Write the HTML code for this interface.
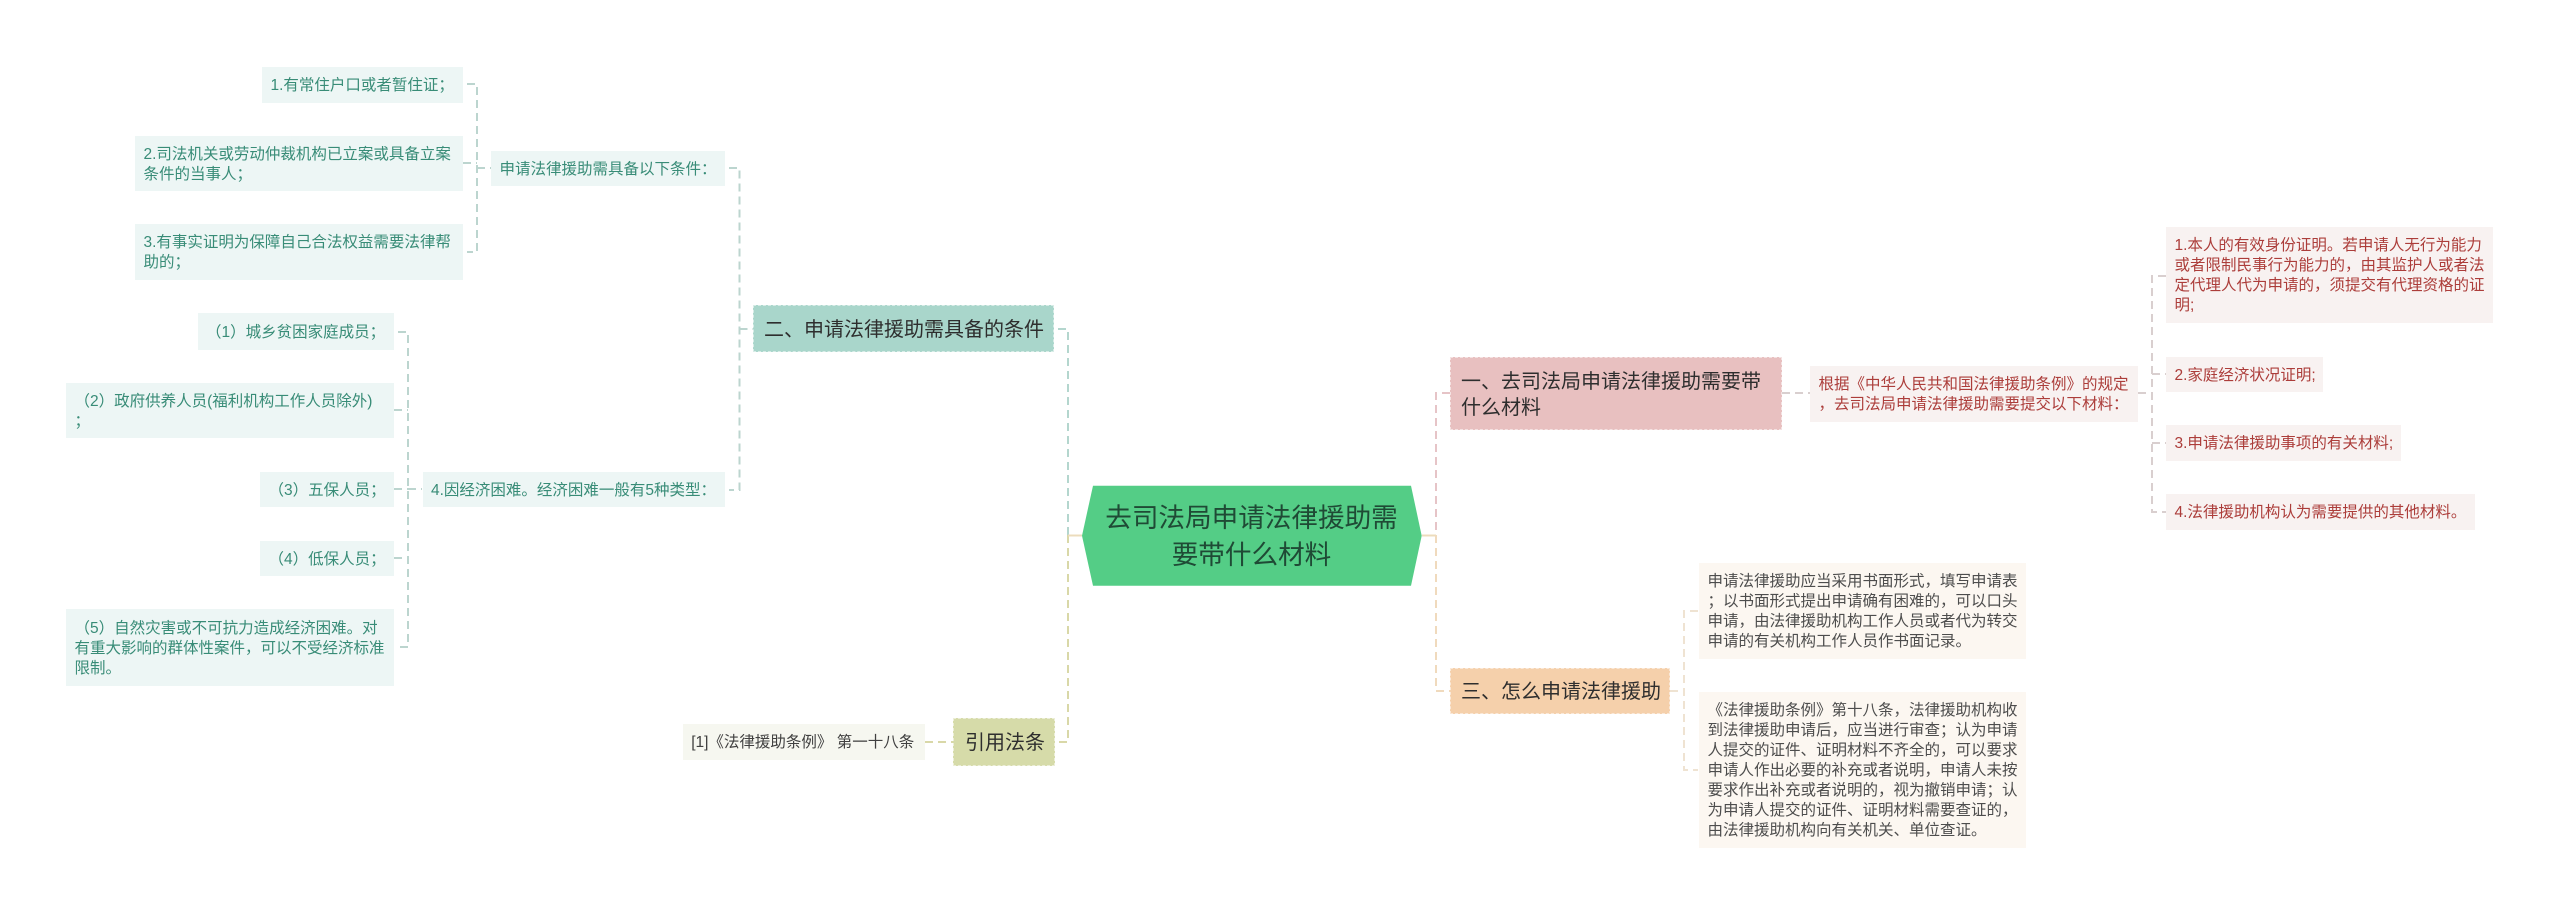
<!DOCTYPE html>
<html lang="zh">
<head>
<meta charset="utf-8">
<title>去司法局申请法律援助需要带什么材料</title>
<style>
html,body{margin:0;padding:0;background:#fff}
#c{position:relative;width:2560px;height:915px;overflow:hidden;background:#fff;font-family:"Liberation Sans","Noto Sans CJK SC",sans-serif}
svg{position:absolute;left:0;top:0}
.n{position:absolute;box-sizing:border-box;display:flex;align-items:center;white-space:nowrap;font-size:15.5px;line-height:20px;padding-left:8.5px;padding-top:2px}
.t{background:#edf6f5;color:#388c77}
.r{background:#f8f2f1;color:#ac3d3a}
.q{background:#fcf7f1;color:#4d4d4d}
.y{background:#f6f7f0;color:#404040}
.m{font-size:20px;line-height:26px;color:#2e2e2e;padding-left:10px;border:1px dashed rgba(255,255,255,.55)}
</style>
</head>
<body>
<div id="c">
<svg width="2560" height="915" fill="none" stroke-width="2" stroke-dasharray="8 5">
<g stroke="#bcd5cf">
<path d="M467 84H477V252H467M463 163H477M477 168H491"/>
<path d="M398 332H408V647H398M394 410H408M394 489H408M394 558H408M408 489H422"/>
<path d="M729 168H739.500V490H729"/>
<path d="M739.500 329H753"/>
</g>
<g stroke="#b4d6ce">
<path d="M1058 329H1068V535"/>
</g>
<g stroke="#d9d8a8">
<path d="M1068 535V742H1058"/>
<path d="M925 742H953"/>
</g>
<path d="M1068 535.500H1082" stroke="#ecdcbc" stroke-dasharray="none"/>
<path d="M1422 535.500H1436" stroke="#ecdcbc" stroke-dasharray="none"/>
<g stroke="#e6c4c7">
<path d="M1450 393H1436V535"/>
</g>
<g stroke="#f0dabd">
<path d="M1436 535V691H1450"/>
</g>
<g stroke="#d9cfcf">
<path d="M1782 393H1810M2138 393H2152"/>
<path d="M2166 276H2152V512H2166M2152 374H2166M2152 443H2166"/>
</g>
<g stroke="#efe3d2">
<path d="M1670 691H1684"/>
<path d="M1698 611H1684V770H1698"/>
</g>
<polygon points="1082,535.700 1093,485.700 1411,485.700 1421.700,535.700 1411,585.700 1093,585.700" fill="#54cd86" stroke="none"/>
</svg>

<div style="position:absolute;left:1082px;top:486.500px;width:339px;height:100px;display:flex;align-items:center;justify-content:center;text-align:center;font-size:26.6px;line-height:36.6px;color:#1f4a35;white-space:nowrap">去司法局申请法律援助需<br>要带什么材料</div>

<div class="n t" style="left:262px;top:67px;width:201px;height:36px">1.有常住户口或者暂住证；</div>
<div class="n t" style="left:135px;top:136px;width:328px;height:55px">2.司法机关或劳动仲裁机构已立案或具备立案<br>条件的当事人；</div>
<div class="n t" style="left:135px;top:224px;width:328px;height:56px">3.有事实证明为保障自己合法权益需要法律帮<br>助的；</div>
<div class="n t" style="left:491px;top:151px;width:234px;height:35px">申请法律援助需具备以下条件：</div>

<div class="n t" style="left:197.500px;top:313px;width:196.500px;height:37px">（1）城乡贫困家庭成员；</div>
<div class="n t" style="left:66px;top:383px;width:328px;height:55px">（2）政府供养人员(福利机构工作人员除外)<br>；</div>
<div class="n t" style="left:260px;top:472px;width:134px;height:35px">（3）五保人员；</div>
<div class="n t" style="left:260px;top:541px;width:134px;height:35px">（4）低保人员；</div>
<div class="n t" style="left:66px;top:609px;width:328px;height:77px">（5）自然灾害或不可抗力造成经济困难。对<br>有重大影响的群体性案件，可以不受经济标准<br>限制。</div>
<div class="n t" style="left:422.500px;top:472px;width:302.500px;height:35px">4.因经济困难。经济困难一般有5种类型：</div>

<div class="n m" style="left:753px;top:305px;width:301px;height:47px;background:#a9d6cb">二、申请法律援助需具备的条件</div>
<div class="n m" style="left:953px;top:718px;width:101.500px;height:48px;background:#d6dba9;padding-left:11px">引用法条</div>
<div class="n y" style="left:682.700px;top:724px;width:242.300px;height:36px">[1]《法律援助条例》 第一十八条</div>

<div class="n m" style="left:1450px;top:357px;width:332px;height:73px;background:#e8c0c0">一、去司法局申请法律援助需要带<br>什么材料</div>
<div class="n m" style="left:1450px;top:668px;width:220px;height:46px;background:#f5d0ab">三、怎么申请法律援助</div>

<div class="n r" style="left:1810px;top:366px;width:327.500px;height:56px">根据《中华人民共和国法律援助条例》的规定<br>，去司法局申请法律援助需要提交以下材料：</div>
<div class="n r" style="left:2166px;top:227px;width:327px;height:96px">1.本人的有效身份证明。若申请人无行为能力<br>或者限制民事行为能力的，由其监护人或者法<br>定代理人代为申请的，须提交有代理资格的证<br>明;</div>
<div class="n r" style="left:2166px;top:357px;width:157px;height:35px">2.家庭经济状况证明;</div>
<div class="n r" style="left:2166px;top:425px;width:235px;height:36px">3.申请法律援助事项的有关材料;</div>
<div class="n r" style="left:2166px;top:494px;width:309px;height:36px">4.法律援助机构认为需要提供的其他材料。</div>

<div class="n q" style="left:1699px;top:563px;width:327px;height:96px">申请法律援助应当采用书面形式，填写申请表<br>；以书面形式提出申请确有困难的，可以口头<br>申请，由法律援助机构工作人员或者代为转交<br>申请的有关机构工作人员作书面记录。</div>
<div class="n q" style="left:1699px;top:692px;width:327px;height:156px">《法律援助条例》第十八条，法律援助机构收<br>到法律援助申请后，应当进行审查；认为申请<br>人提交的证件、证明材料不齐全的，可以要求<br>申请人作出必要的补充或者说明，申请人未按<br>要求作出补充或者说明的，视为撤销申请；认<br>为申请人提交的证件、证明材料需要查证的，<br>由法律援助机构向有关机关、单位查证。</div>
</div>
</body>
</html>
